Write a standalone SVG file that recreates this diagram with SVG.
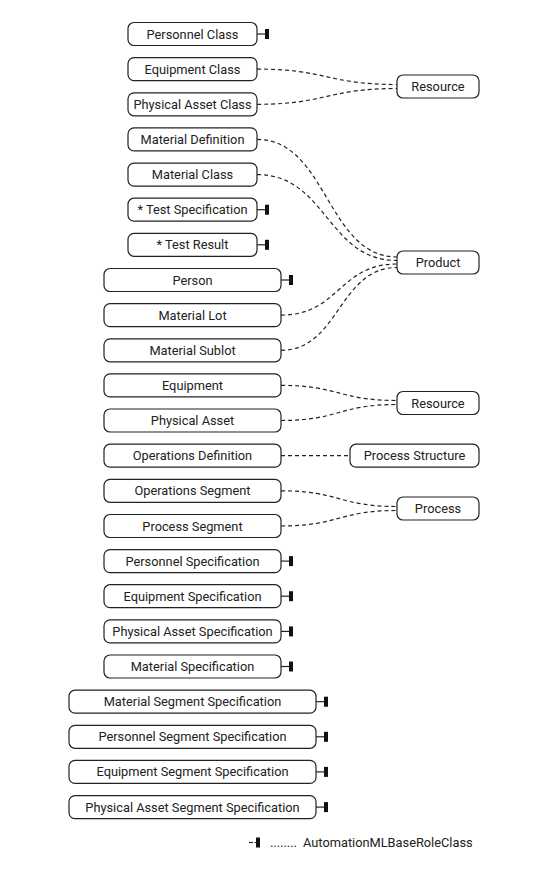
<svg xmlns="http://www.w3.org/2000/svg" width="560" height="869" viewBox="0 0 560 869">
<style>
.box{fill:#fff;stroke:#222;stroke-width:1.2}
.t{font-family:Roboto,"Liberation Sans",sans-serif;font-size:12.8px;fill:#222;text-anchor:middle;dominant-baseline:central}
.lt{font-family:Roboto,"Liberation Sans",sans-serif;font-size:12.8px;fill:#222;dominant-baseline:central}
.c{fill:none;stroke:#222;stroke-width:1.2;stroke-dasharray:4 3}
.stub{stroke:#222;stroke-width:1.2}
.bar{fill:#111}
</style>
<defs>
<g id="term"><line class="stub" x1="0" y1="0" x2="8" y2="0"/><rect class="bar" x="8" y="-5" width="4" height="10"/></g>
</defs>
<rect width="560" height="869" fill="#fff"/>
<g id="connectors">
<path class="c" d="M257,69.1 C327,69.1 327,84.5 397,84.5"/>
<path class="c" d="M257,104.3 C327,104.3 327,88.5 397,88.5"/>
<path class="c" d="M257,139.4 C327,139.4 327,257 397,257"/>
<path class="c" d="M257,174.6 C327,174.6 327,260.5 397,260.5"/>
<path class="c" d="M281,315.1 C339,315.1 339,264 397,264"/>
<path class="c" d="M281,350.3 C339,350.3 339,267.5 397,267.5"/>
<path class="c" d="M281,385.4 C339,385.4 339,400.5 397,400.5"/>
<path class="c" d="M281,420.5 C339,420.5 339,404.5 397,404.5"/>
<path class="c" d="M281,455.7 L350,455.7"/>
<path class="c" d="M281,490.8 C339,490.8 339,506.5 397,506.5"/>
<path class="c" d="M281,526 C339,526 339,510.5 397,510.5"/>
<use href="#term" x="257" y="34"/>
<use href="#term" x="257" y="209.7"/>
<use href="#term" x="257" y="244.8"/>
<use href="#term" x="281" y="280"/>
<use href="#term" x="281" y="561.1"/>
<use href="#term" x="281" y="596.2"/>
<use href="#term" x="281" y="631.4"/>
<use href="#term" x="281" y="666.5"/>
<use href="#term" x="316" y="701.7"/>
<use href="#term" x="316" y="736.8"/>
<use href="#term" x="316" y="771.9"/>
<use href="#term" x="316" y="807.1"/>
</g>
<g id="n-personnel-class"><rect class="box" x="128" y="22.5" width="129" height="23" rx="6"/><text class="t" x="192.5" y="34">Personnel Class</text></g>
<g id="n-equipment-class"><rect class="box" x="128" y="57.6" width="129" height="23" rx="6"/><text class="t" x="192.5" y="69.1">Equipment Class</text></g>
<g id="n-physical-asset-class"><rect class="box" x="128" y="92.8" width="129" height="23" rx="6"/><text class="t" x="192.5" y="104.3">Physical Asset Class</text></g>
<g id="n-material-definition"><rect class="box" x="128" y="127.9" width="129" height="23" rx="6"/><text class="t" x="192.5" y="139.4">Material Definition</text></g>
<g id="n-material-class"><rect class="box" x="128" y="163.1" width="129" height="23" rx="6"/><text class="t" x="192.5" y="174.6">Material Class</text></g>
<g id="n-test-specification"><rect class="box" x="128" y="198.2" width="129" height="23" rx="6"/><text class="t" x="192.5" y="209.7">* Test Specification</text></g>
<g id="n-test-result"><rect class="box" x="128" y="233.3" width="129" height="23" rx="6"/><text class="t" x="192.5" y="244.8">* Test Result</text></g>
<g id="n-person"><rect class="box" x="104" y="268.5" width="177" height="23" rx="6"/><text class="t" x="192.5" y="280">Person</text></g>
<g id="n-material-lot"><rect class="box" x="104" y="303.6" width="177" height="23" rx="6"/><text class="t" x="192.5" y="315.1">Material Lot</text></g>
<g id="n-material-sublot"><rect class="box" x="104" y="338.8" width="177" height="23" rx="6"/><text class="t" x="192.5" y="350.3">Material Sublot</text></g>
<g id="n-equipment"><rect class="box" x="104" y="373.9" width="177" height="23" rx="6"/><text class="t" x="192.5" y="385.4">Equipment</text></g>
<g id="n-physical-asset"><rect class="box" x="104" y="409" width="177" height="23" rx="6"/><text class="t" x="192.5" y="420.5">Physical Asset</text></g>
<g id="n-operations-definition"><rect class="box" x="104" y="444.2" width="177" height="23" rx="6"/><text class="t" x="192.5" y="455.7">Operations Definition</text></g>
<g id="n-operations-segment"><rect class="box" x="104" y="479.3" width="177" height="23" rx="6"/><text class="t" x="192.5" y="490.8">Operations Segment</text></g>
<g id="n-process-segment"><rect class="box" x="104" y="514.5" width="177" height="23" rx="6"/><text class="t" x="192.5" y="526">Process Segment</text></g>
<g id="n-personnel-specification"><rect class="box" x="104" y="549.6" width="177" height="23" rx="6"/><text class="t" x="192.5" y="561.1">Personnel Specification</text></g>
<g id="n-equipment-specification"><rect class="box" x="104" y="584.7" width="177" height="23" rx="6"/><text class="t" x="192.5" y="596.2">Equipment Specification</text></g>
<g id="n-physical-asset-specification"><rect class="box" x="104" y="619.9" width="177" height="23" rx="6"/><text class="t" x="192.5" y="631.4">Physical Asset Specification</text></g>
<g id="n-material-specification"><rect class="box" x="104" y="655" width="177" height="23" rx="6"/><text class="t" x="192.5" y="666.5">Material Specification</text></g>
<g id="n-material-segment-specification"><rect class="box" x="69" y="690.2" width="247" height="23" rx="6"/><text class="t" x="192.5" y="701.7">Material Segment Specification</text></g>
<g id="n-personnel-segment-specification"><rect class="box" x="69" y="725.3" width="247" height="23" rx="6"/><text class="t" x="192.5" y="736.8">Personnel Segment Specification</text></g>
<g id="n-equipment-segment-specification"><rect class="box" x="69" y="760.4" width="247" height="23" rx="6"/><text class="t" x="192.5" y="771.9">Equipment Segment Specification</text></g>
<g id="n-physical-asset-segment-specification"><rect class="box" x="69" y="795.6" width="247" height="23" rx="6"/><text class="t" x="192.5" y="807.1">Physical Asset Segment Specification</text></g>
<g id="n-resource-1"><rect class="box" x="397" y="75" width="82" height="23" rx="6"/><text class="t" x="438" y="86.5">Resource</text></g>
<g id="n-product"><rect class="box" x="397" y="251" width="82" height="23" rx="6"/><text class="t" x="438" y="262.5">Product</text></g>
<g id="n-resource-2"><rect class="box" x="397" y="391.5" width="82" height="23" rx="6"/><text class="t" x="438" y="403">Resource</text></g>
<g id="n-process-structure"><rect class="box" x="350" y="444.2" width="129" height="23" rx="6"/><text class="t" x="414.5" y="455.7">Process Structure</text></g>
<g id="n-process"><rect class="box" x="397" y="497" width="82" height="23" rx="6"/><text class="t" x="438" y="508.5">Process</text></g>
<g id="legend">
<line class="stub" x1="249" y1="842.5" x2="253" y2="842.5"/>
<line class="stub" x1="254.5" y1="842.5" x2="256" y2="842.5"/>
<rect class="bar" x="256" y="837.5" width="4" height="10"/>
<text class="lt" x="270" y="842.5">........</text>
<text class="lt" x="303" y="842.5">AutomationMLBaseRoleClass</text>
</g>
</svg>
